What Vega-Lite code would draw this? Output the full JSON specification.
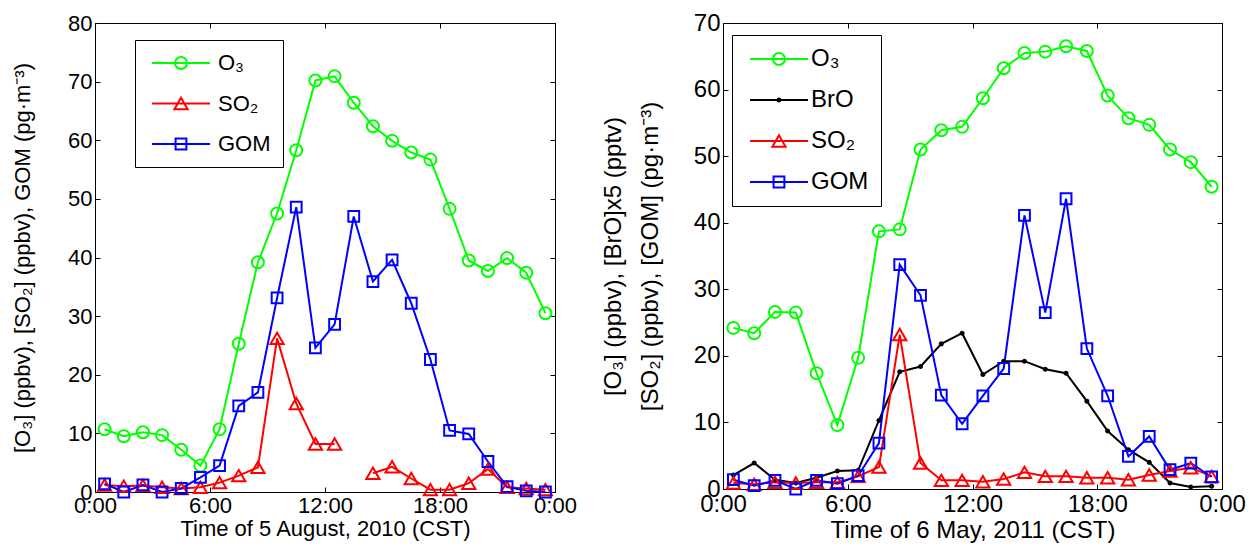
{
  "$schema": "https://vega.github.io/schema/vega-lite/v6.json",
  "background": "white",
  "padding": {"left": 11, "top": 10, "right": 5, "bottom": 5},
  "spacing": 2,
  "config": {
    "font": "Liberation Sans",
    "view": {"stroke": "black", "strokeWidth": 1},
    "axis": {
      "grid": false,
      "domainColor": "black",
      "tickColor": "black",
      "labelColor": "black",
      "titleColor": "black",
      "labelFont": "Liberation Sans",
      "titleFont": "Liberation Sans",
      "titleFontWeight": "normal",
      "tickSize": -5,
      "labelPadding": 8
    },
    "legend": {
      "title": null,
      "orient": "none",
      "strokeColor": "black",
      "fillColor": "white",
      "labelFont": "Liberation Sans",
      "labelColor": "black",
      "symbolStrokeWidth": 2,
      "symbolSize": 144,
      "symbolOpacity": 1,
      "symbolFillColor": "transparent"
    }
  },
  "hconcat": [
    {
      "width": 460,
      "height": 469,
      "data": {
        "values": [
          {"h":0.5,"s":"O₃","v":10.7},{"h":1.5,"s":"O₃","v":9.5},{"h":2.5,"s":"O₃","v":10.2},{"h":3.5,"s":"O₃","v":9.7},{"h":4.5,"s":"O₃","v":7.2},{"h":5.5,"s":"O₃","v":4.5},{"h":6.5,"s":"O₃","v":10.7},{"h":7.5,"s":"O₃","v":25.3},{"h":8.5,"s":"O₃","v":39.2},{"h":9.5,"s":"O₃","v":47.5},{"h":10.5,"s":"O₃","v":58.3},{"h":11.5,"s":"O₃","v":70.2},{"h":12.5,"s":"O₃","v":70.9},{"h":13.5,"s":"O₃","v":66.4},{"h":14.5,"s":"O₃","v":62.4},{"h":15.5,"s":"O₃","v":59.9},{"h":16.5,"s":"O₃","v":57.9},{"h":17.5,"s":"O₃","v":56.7},{"h":18.5,"s":"O₃","v":48.3},{"h":19.5,"s":"O₃","v":39.5},{"h":20.5,"s":"O₃","v":37.7},{"h":21.5,"s":"O₃","v":39.9},{"h":22.5,"s":"O₃","v":37.4},{"h":23.5,"s":"O₃","v":30.5},
          {"h":0.5,"s":"SO₂","v":1.2},{"h":1.5,"s":"SO₂","v":1.0},{"h":2.5,"s":"SO₂","v":1.1},{"h":3.5,"s":"SO₂","v":0.8},{"h":4.5,"s":"SO₂","v":0.6},{"h":5.5,"s":"SO₂","v":0.8},{"h":6.5,"s":"SO₂","v":1.6},{"h":7.5,"s":"SO₂","v":2.8},{"h":8.5,"s":"SO₂","v":4.2},{"h":9.5,"s":"SO₂","v":26.2},{"h":10.5,"s":"SO₂","v":15.1},{"h":11.5,"s":"SO₂","v":8.2},{"h":12.5,"s":"SO₂","v":8.2},{"h":13.5,"s":"SO₂","v":null},{"h":14.5,"s":"SO₂","v":3.2},{"h":15.5,"s":"SO₂","v":4.3},{"h":16.5,"s":"SO₂","v":2.3},{"h":17.5,"s":"SO₂","v":0.4},{"h":18.5,"s":"SO₂","v":0.4},{"h":19.5,"s":"SO₂","v":1.5},{"h":20.5,"s":"SO₂","v":3.9},{"h":21.5,"s":"SO₂","v":0.8},{"h":22.5,"s":"SO₂","v":0.6},{"h":23.5,"s":"SO₂","v":0.4},
          {"h":0.5,"s":"GOM","v":1.4},{"h":1.5,"s":"GOM","v":0.0},{"h":2.5,"s":"GOM","v":1.2},{"h":3.5,"s":"GOM","v":0.0},{"h":4.5,"s":"GOM","v":0.6},{"h":5.5,"s":"GOM","v":2.5},{"h":6.5,"s":"GOM","v":4.5},{"h":7.5,"s":"GOM","v":14.7},{"h":8.5,"s":"GOM","v":17.0},{"h":9.5,"s":"GOM","v":33.1},{"h":10.5,"s":"GOM","v":48.6},{"h":11.5,"s":"GOM","v":24.6},{"h":12.5,"s":"GOM","v":28.6},{"h":13.5,"s":"GOM","v":47.0},{"h":14.5,"s":"GOM","v":35.9},{"h":15.5,"s":"GOM","v":39.6},{"h":16.5,"s":"GOM","v":32.2},{"h":17.5,"s":"GOM","v":22.6},{"h":18.5,"s":"GOM","v":10.5},{"h":19.5,"s":"GOM","v":9.9},{"h":20.5,"s":"GOM","v":5.2},{"h":21.5,"s":"GOM","v":0.9},{"h":22.5,"s":"GOM","v":0.2},{"h":23.5,"s":"GOM","v":0.0}
        ]
      },
      "layer": [
        {
          "mark": {"type": "line", "strokeWidth": 2, "invalid": "break-paths-filter-domains"},
          "encoding": {
            "x": {"field": "h", "type": "quantitative", "scale": {"domain": [0, 24], "nice": false},
                  "axis": {"orient": "bottom", "values": [0, 6, 12, 18, 24], "labelExpr": "(datum.value % 24) + ':00'", "labelFontSize": 22, "titleFontSize": 22, "title": "Time of 5 August, 2010 (CST)", "titlePadding": 2, "labelFlush": false}},
            "y": {"field": "v", "type": "quantitative", "scale": {"domain": [0, 80], "nice": false},
                  "axis": {"orient": "left", "values": [0,10,20,30,40,50,60,70,80], "labelFontSize": 22, "titleFontSize": 22, "title": "[O₃] (ppbv), [SO₂] (ppbv), GOM (pg·m⁻³)", "titlePadding": 33}},
            "color": {"field": "s", "type": "nominal", "scale": {"domain": ["GOM", "SO₂", "O₃"], "range": ["#0000ff", "#ff0000", "#00ff00"]}, "legend": null}
          }
        },
        {
          "transform": [{"filter": "datum.s === 'O₃'"}],
          "mark": {"type": "point", "filled": false, "strokeWidth": 2, "size": 144, "opacity": 1, "shape": "M1,0A1,1 0 1,1 -1,0A1,1 0 1,1 1,0Z"},
          "encoding": {
            "x": {"field": "h", "type": "quantitative", "axis": null},
            "y": {"field": "v", "type": "quantitative", "axis": null},
            "color": {"field": "s", "type": "nominal", "legend": null}
          }
        },
        {
          "transform": [{"filter": "datum.s === 'SO₂'"}],
          "mark": {"type": "point", "filled": false, "strokeWidth": 2, "size": 144, "opacity": 1, "shape": "M0,-0.95L1.1,0.95H-1.1Z"},
          "encoding": {
            "x": {"field": "h", "type": "quantitative", "axis": null},
            "y": {"field": "v", "type": "quantitative", "axis": null},
            "color": {"field": "s", "type": "nominal", "legend": null}
          }
        },
        {
          "transform": [{"filter": "datum.s === 'GOM'"}],
          "mark": {"type": "point", "filled": false, "strokeWidth": 2, "size": 144, "opacity": 1, "shape": "M-0.9,-0.9H0.9V0.9H-0.9Z"},
          "encoding": {
            "x": {"field": "h", "type": "quantitative", "axis": null},
            "y": {"field": "v", "type": "quantitative", "axis": null},
            "color": {"field": "s", "type": "nominal", "legend": null}
          }
        },
        {
          "mark": {"type": "point", "filled": false, "strokeWidth": 2, "size": 144, "opacity": 0},
          "encoding": {
            "x": {"field": "h", "type": "quantitative", "axis": {"orient": "top", "values": [0, 6, 12, 18, 24], "labels": false, "title": null, "domain": false}},
            "y": {"field": "v", "type": "quantitative", "axis": {"orient": "right", "values": [0,10,20,30,40,50,60,70,80], "labels": false, "title": null, "domain": false}},
            "stroke": {"field": "s", "type": "nominal", "scale": {"domain": ["O₃", "SO₂", "GOM"], "range": ["#00ff00", "#ff0000", "#0000ff"]},
              "legend": {"legendX": 40, "legendY": 17, "labelFontSize": 22, "padding": 12, "rowPadding": 18.5, "labelOffset": 49, "symbolOpacity": 1}},
            "shape": {"field": "s", "type": "nominal", "scale": {"domain": ["O₃", "SO₂", "GOM"], "range": [
                "M-1,0H8.67M4.83,0A1,1 0 1,1 2.83,0A1,1 0 1,1 4.83,0",
                "M-1,0H8.67M3.83,-0.95L4.93,0.95H2.73Z",
                "M-1,0H8.67M2.93,-0.9H4.73V0.9H2.93Z"]},
              "legend": {"legendX": 40, "legendY": 17, "labelFontSize": 22, "padding": 12, "rowPadding": 18.5, "labelOffset": 49, "symbolOpacity": 1}}
          }
        }
      ]
    },
    {
      "width": 499,
      "height": 466,
      "data": {
        "values": [
          {"h":0.5,"s":"O₃","v":24.2},{"h":1.5,"s":"O₃","v":23.4},{"h":2.5,"s":"O₃","v":26.6},{"h":3.5,"s":"O₃","v":26.5},{"h":4.5,"s":"O₃","v":17.4},{"h":5.5,"s":"O₃","v":9.6},{"h":6.5,"s":"O₃","v":19.7},{"h":7.5,"s":"O₃","v":38.7},{"h":8.5,"s":"O₃","v":39.0},{"h":9.5,"s":"O₃","v":51.0},{"h":10.5,"s":"O₃","v":53.9},{"h":11.5,"s":"O₃","v":54.4},{"h":12.5,"s":"O₃","v":58.7},{"h":13.5,"s":"O₃","v":63.2},{"h":14.5,"s":"O₃","v":65.5},{"h":15.5,"s":"O₃","v":65.7},{"h":16.5,"s":"O₃","v":66.5},{"h":17.5,"s":"O₃","v":65.8},{"h":18.5,"s":"O₃","v":59.1},{"h":19.5,"s":"O₃","v":55.7},{"h":20.5,"s":"O₃","v":54.7},{"h":21.5,"s":"O₃","v":51.0},{"h":22.5,"s":"O₃","v":49.1},{"h":23.5,"s":"O₃","v":45.4},
          {"h":0.5,"s":"BrO","v":2.1},{"h":1.5,"s":"BrO","v":3.9},{"h":2.5,"s":"BrO","v":1.4},{"h":3.5,"s":"BrO","v":0.9},{"h":4.5,"s":"BrO","v":1.7},{"h":5.5,"s":"BrO","v":2.7},{"h":6.5,"s":"BrO","v":2.8},{"h":7.5,"s":"BrO","v":10.3},{"h":8.5,"s":"BrO","v":17.6},{"h":9.5,"s":"BrO","v":18.4},{"h":10.5,"s":"BrO","v":21.8},{"h":11.5,"s":"BrO","v":23.4},{"h":12.5,"s":"BrO","v":17.2},{"h":13.5,"s":"BrO","v":19.2},{"h":14.5,"s":"BrO","v":19.2},{"h":15.5,"s":"BrO","v":18.0},{"h":16.5,"s":"BrO","v":17.4},{"h":17.5,"s":"BrO","v":13.2},{"h":18.5,"s":"BrO","v":8.7},{"h":19.5,"s":"BrO","v":5.9},{"h":20.5,"s":"BrO","v":4.0},{"h":21.5,"s":"BrO","v":0.9},{"h":22.5,"s":"BrO","v":0.3},{"h":23.5,"s":"BrO","v":0.4},
          {"h":0.5,"s":"SO₂","v":0.9},{"h":1.5,"s":"SO₂","v":0.7},{"h":2.5,"s":"SO₂","v":1.0},{"h":3.5,"s":"SO₂","v":0.9},{"h":4.5,"s":"SO₂","v":1.0},{"h":5.5,"s":"SO₂","v":1.0},{"h":6.5,"s":"SO₂","v":1.9},{"h":7.5,"s":"SO₂","v":3.3},{"h":8.5,"s":"SO₂","v":23.2},{"h":9.5,"s":"SO₂","v":3.9},{"h":10.5,"s":"SO₂","v":1.3},{"h":11.5,"s":"SO₂","v":1.3},{"h":12.5,"s":"SO₂","v":1.1},{"h":13.5,"s":"SO₂","v":1.5},{"h":14.5,"s":"SO₂","v":2.5},{"h":15.5,"s":"SO₂","v":1.9},{"h":16.5,"s":"SO₂","v":1.9},{"h":17.5,"s":"SO₂","v":1.7},{"h":18.5,"s":"SO₂","v":1.7},{"h":19.5,"s":"SO₂","v":1.4},{"h":20.5,"s":"SO₂","v":2.1},{"h":21.5,"s":"SO₂","v":2.7},{"h":22.5,"s":"SO₂","v":3.2},{"h":23.5,"s":"SO₂","v":1.9},
          {"h":0.5,"s":"GOM","v":1.4},{"h":1.5,"s":"GOM","v":0.5},{"h":2.5,"s":"GOM","v":1.3},{"h":3.5,"s":"GOM","v":0.0},{"h":4.5,"s":"GOM","v":1.3},{"h":5.5,"s":"GOM","v":0.8},{"h":6.5,"s":"GOM","v":2.0},{"h":7.5,"s":"GOM","v":6.9},{"h":8.5,"s":"GOM","v":33.7},{"h":9.5,"s":"GOM","v":29.1},{"h":10.5,"s":"GOM","v":14.1},{"h":11.5,"s":"GOM","v":9.8},{"h":12.5,"s":"GOM","v":14.0},{"h":13.5,"s":"GOM","v":18.1},{"h":14.5,"s":"GOM","v":41.1},{"h":15.5,"s":"GOM","v":26.5},{"h":16.5,"s":"GOM","v":43.6},{"h":17.5,"s":"GOM","v":21.1},{"h":18.5,"s":"GOM","v":14.0},{"h":19.5,"s":"GOM","v":4.9},{"h":20.5,"s":"GOM","v":7.9},{"h":21.5,"s":"GOM","v":2.9},{"h":22.5,"s":"GOM","v":3.9},{"h":23.5,"s":"GOM","v":1.8}
        ]
      },
      "layer": [
        {
          "mark": {"type": "line", "strokeWidth": 2, "invalid": "break-paths-filter-domains"},
          "encoding": {
            "x": {"field": "h", "type": "quantitative", "scale": {"domain": [0, 24], "nice": false},
                  "axis": {"orient": "bottom", "values": [0, 6, 12, 18, 24], "labelExpr": "(datum.value % 24) + ':00'", "labelFontSize": 24, "titleFontSize": 24, "title": "Time of 6 May, 2011 (CST)", "titlePadding": 2, "labelFlush": false}},
            "y": {"field": "v", "type": "quantitative", "scale": {"domain": [0, 70], "nice": false},
                  "axis": {"orient": "left", "values": [0,10,20,30,40,50,60,70], "labelFontSize": 24, "titleFontSize": 24, "title": ["[O₃] (ppbv), [BrO]x5 (pptv)", "[SO₂] (ppbv), [GOM] (pg·m⁻³)"], "titleLineHeight": 37, "titlePadding": 31}},
            "color": {"field": "s", "type": "nominal", "scale": {"domain": ["GOM", "SO₂", "BrO", "O₃"], "range": ["#0000ff", "#ff0000", "#000000", "#00ff00"]}, "legend": null}
          }
        },
        {
          "transform": [{"filter": "datum.s === 'O₃'"}],
          "mark": {"type": "point", "filled": false, "strokeWidth": 2, "size": 144, "opacity": 1, "shape": "M1,0A1,1 0 1,1 -1,0A1,1 0 1,1 1,0Z"},
          "encoding": {
            "x": {"field": "h", "type": "quantitative", "axis": null},
            "y": {"field": "v", "type": "quantitative", "axis": null},
            "color": {"field": "s", "type": "nominal", "legend": null}
          }
        },
        {
          "transform": [{"filter": "datum.s === 'BrO'"}],
          "mark": {"type": "point", "filled": false, "strokeWidth": 2, "size": 144, "opacity": 1, "shape": "M0.25,0A0.25,0.25 0 1,1 -0.25,0A0.25,0.25 0 1,1 0.25,0Z"},
          "encoding": {
            "x": {"field": "h", "type": "quantitative", "axis": null},
            "y": {"field": "v", "type": "quantitative", "axis": null},
            "color": {"field": "s", "type": "nominal", "legend": null}
          }
        },
        {
          "transform": [{"filter": "datum.s === 'SO₂'"}],
          "mark": {"type": "point", "filled": false, "strokeWidth": 2, "size": 144, "opacity": 1, "shape": "M0,-0.95L1.1,0.95H-1.1Z"},
          "encoding": {
            "x": {"field": "h", "type": "quantitative", "axis": null},
            "y": {"field": "v", "type": "quantitative", "axis": null},
            "color": {"field": "s", "type": "nominal", "legend": null}
          }
        },
        {
          "transform": [{"filter": "datum.s === 'GOM'"}],
          "mark": {"type": "point", "filled": false, "strokeWidth": 2, "size": 144, "opacity": 1, "shape": "M-0.9,-0.9H0.9V0.9H-0.9Z"},
          "encoding": {
            "x": {"field": "h", "type": "quantitative", "axis": null},
            "y": {"field": "v", "type": "quantitative", "axis": null},
            "color": {"field": "s", "type": "nominal", "legend": null}
          }
        },
        {
          "mark": {"type": "point", "filled": false, "strokeWidth": 2, "size": 144, "opacity": 0},
          "encoding": {
            "x": {"field": "h", "type": "quantitative", "axis": {"orient": "top", "values": [0, 6, 12, 18, 24], "labels": false, "title": null, "domain": false}},
            "y": {"field": "v", "type": "quantitative", "axis": {"orient": "right", "values": [0,10,20,30,40,50,60,70], "labels": false, "title": null, "domain": false}},
            "stroke": {"field": "s", "type": "nominal", "scale": {"domain": ["O₃", "BrO", "SO₂", "GOM"], "range": ["#00ff00", "#000000", "#ff0000", "#0000ff"]},
              "legend": {"legendX": 9, "legendY": 12, "labelFontSize": 24, "padding": 12, "rowPadding": 17, "labelOffset": 43, "symbolOpacity": 1}},
            "shape": {"field": "s", "type": "nominal", "scale": {"domain": ["O₃", "BrO", "SO₂", "GOM"], "range": [
                "M-1,0H8.67M4.83,0A1,1 0 1,1 2.83,0A1,1 0 1,1 4.83,0",
                "M-1,0H8.67M4.08,0A0.25,0.25 0 1,1 3.58,0A0.25,0.25 0 1,1 4.08,0",
                "M-1,0H8.67M3.83,-0.95L4.93,0.95H2.73Z",
                "M-1,0H8.67M2.93,-0.9H4.73V0.9H2.93Z"]},
              "legend": {"legendX": 9, "legendY": 12, "labelFontSize": 24, "padding": 12, "rowPadding": 17, "labelOffset": 43, "symbolOpacity": 1}}
          }
        }
      ]
    }
  ],
  "resolve": {"scale": {"color": "independent", "shape": "independent", "stroke": "independent"}, "legend": {"color": "independent", "shape": "independent", "stroke": "independent"}}
}
